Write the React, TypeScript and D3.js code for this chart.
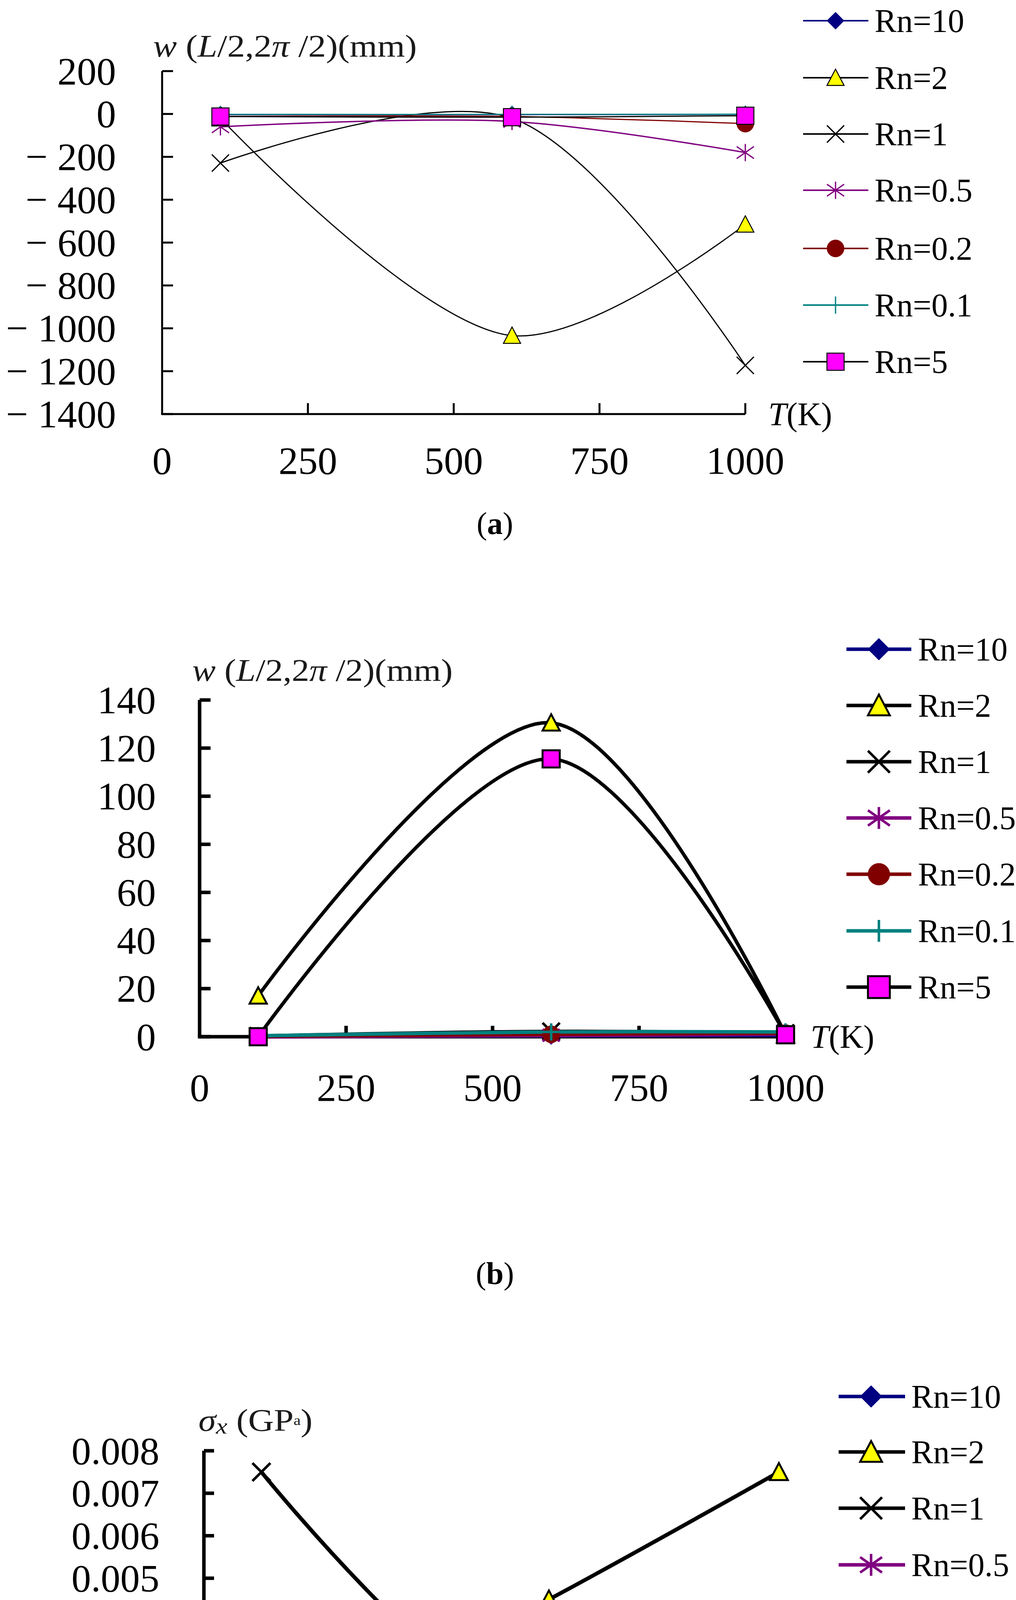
import * as d3 from 'd3'

// Temperatures where every series was evaluated
const temps = [100, 600, 1000]

const seriesNames = ['Rn=10', 'Rn=2', 'Rn=1', 'Rn=0.5', 'Rn=0.2', 'Rn=0.1', 'Rn=5']
const lineColors = ['#000080', '#000000', '#000000', '#800080', '#800000', '#008080', '#000000']
const markerKinds = ['diamond', 'triangle', 'cross', 'star', 'circle', 'plus', 'square']
const markerFills = ['#000080', '#ffff00', 'none', 'none', '#800000', 'none', '#ff00ff']

// (a) w(L/2, 2pi/2) in mm
const aValues = [
  [-3, -3, -2],
  [-20, -1034, -515],
  [-229, -20, -1173],
  [-60, -35, -180],
  [-12, -12, -45],
  [-2, -2, -1],
  [-12, -15, -8],
]

// (b) w(L/2, 2pi/2) in mm
const bValues = [
  [0.1, 0.3, 0.5],
  [17, 130.5, 0.8],
  [0.3, 2.2, 1.5],
  [0.1, 0.6, 1.2],
  [0.2, 1.0, 1.5],
  [0.4, 2.0, 2.0],
  [0, 115.5, 0.8],
]

// (c) sigma_x in GPa
const cValues = [
  [0.00142, 0.0018, 0.00145],
  [0.001, 0.0045, 0.0075],
  [0.0075, 0.0015, 0.00345],
  [0.00245, 0.0024, 0.00315],
  [0.0016, 0.00188, 0.00182],
  [0.00138, 0.00172, 0.0015],
  [0.00148, 0.00185, 0.0016],
]

const xTicks = [0, 250, 500, 750, 1000]
const aYTicks = [200, 0, -200, -400, -600, -800, -1000, -1200, -1400]
const bYTicks = [0, 20, 40, 60, 80, 100, 120, 140]
const cYTicks = [0, 0.001, 0.002, 0.003, 0.004, 0.005, 0.006, 0.007, 0.008]

const FONT = "'Liberation Serif', 'Times New Roman', serif"

interface PanelCfg {
  x0: number
  x1: number
  yTop: number
  yBottom: number
  yDomain: [number, number]
  axisWidth: number
  tickLen: number
  lineWidth: number
  markerSize: number
  markerStroke: number
  labelGap: number
  xLabelDy: number
  titleX: number
  titleY: number
  titleLen: number
  tkX: number
  legend: { lx1: number; lx2: number; mx: number; tx: number; rows: number[]; size: number; width: number }
  captionY: number
}

function markerPath(kind: string, s: number) {
  const h = s / 2
  switch (kind) {
    case 'diamond':
      return `M0,${-h}L${h},0L0,${h}L${-h},0Z`
    case 'triangle':
      return `M0,${-h}L${h},${h * 0.9}L${-h},${h * 0.9}Z`
    case 'square':
      return `M${-h},${-h}H${h}V${h}H${-h}Z`
    case 'circle':
      return d3.arc()({ innerRadius: 0, outerRadius: h, startAngle: 0, endAngle: Math.PI * 2 }) || ''
    case 'cross':
      return `M${-h},${-h}L${h},${h}M${h},${-h}L${-h},${h}`
    case 'star':
      return `M${-h},${-h * 0.7}L${h},${h * 0.7}M${h},${-h * 0.7}L${-h},${h * 0.7}M0,${-h}L0,${h}`
    case 'plus':
      return `M${-h},0L${h},0M0,${-h}L0,${h}`
  }
  return ''
}

function Marker({ i, cx, cy, size, sw }: { i: number; cx: number; cy: number; size: number; sw: number }) {
  const kind = markerKinds[i]
  const open = kind === 'cross' || kind === 'star' || kind === 'plus'
  const outlined = kind === 'triangle' || kind === 'square'
  return (
    <path
      transform={`translate(${cx},${cy})`}
      d={markerPath(kind, size)}
      fill={open ? 'none' : markerFills[i]}
      stroke={open ? lineColors[i] : outlined ? '#000' : markerFills[i]}
      strokeWidth={open ? sw * 1.3 : outlined ? sw : 1}
      strokeLinejoin="miter"
    />
  )
}

function Panel({
  cfg,
  values,
  yTicks,
  fmt,
  title,
  caption,
}: {
  cfg: PanelCfg
  values: number[][]
  yTicks: number[]
  fmt: (v: number) => string
  title: JSX.Element
  caption: string
}) {
  const x = d3.scaleLinear().domain([0, 1000]).range([cfg.x0, cfg.x1])
  const y = d3.scaleLinear().domain(cfg.yDomain).range([cfg.yBottom, cfg.yTop])
  const line = d3
    .line<number>()
    .x((_, i) => x(temps[i]))
    .y(d => y(d))
    .curve(d3.curveCatmullRom.alpha(0.5))

  const lg = cfg.legend
  return (
    <g>
      {/* axes */}
      <line x1={cfg.x0} y1={cfg.yTop} x2={cfg.x0} y2={cfg.yBottom} stroke="#000" strokeWidth={cfg.axisWidth} />
      <line
        x1={cfg.x0 - cfg.axisWidth / 2}
        y1={cfg.yBottom}
        x2={cfg.x1}
        y2={cfg.yBottom}
        stroke="#000"
        strokeWidth={cfg.axisWidth}
      />
      {yTicks.map(t => (
        <g key={'y' + t}>
          <line x1={cfg.x0} x2={cfg.x0 + cfg.tickLen} y1={y(t)} y2={y(t)} stroke="#000" strokeWidth={cfg.axisWidth} />
          <text
            x={cfg.x0 - cfg.labelGap}
            y={y(t)}
            textAnchor="end"
            dominantBaseline="central"
            fontSize={100}
            fontFamily={FONT}
          >
            {fmt(t)}
          </text>
        </g>
      ))}
      {xTicks.map(t => (
        <g key={'x' + t}>
          {t > 0 && (
            <line
              x1={x(t)}
              x2={x(t)}
              y1={cfg.yBottom}
              y2={cfg.yBottom - cfg.tickLen}
              stroke="#000"
              strokeWidth={cfg.axisWidth}
            />
          )}
          <text
            x={x(t)}
            y={cfg.yBottom + cfg.xLabelDy}
            textAnchor="middle"
            dominantBaseline="central"
            fontSize={100}
            fontFamily={FONT}
          >
            {t}
          </text>
        </g>
      ))}

      {/* series lines, then markers */}
      {values.map((vals, i) => (
        <path
          key={'l' + i}
          d={line(vals) || ''}
          fill="none"
          stroke={lineColors[i]}
          strokeWidth={cfg.lineWidth * (i === 3 ? 1.2 : 1)}
        />
      ))}
      {values.map((vals, i) =>
        vals.map((v, j) => (
          <Marker key={`m${i}-${j}`} i={i} cx={x(temps[j])} cy={y(v)} size={cfg.markerSize} sw={cfg.markerStroke} />
        ))
      )}

      {/* titles */}
      <text
        x={cfg.titleX}
        y={cfg.titleY}
        dominantBaseline="central"
        fontSize={80}
        fontFamily={FONT}
        fill="#1a1a1a"
        textLength={cfg.titleLen}
        lengthAdjust="spacingAndGlyphs"
      >
        {title}
      </text>
      <text x={cfg.tkX} y={cfg.yBottom} dominantBaseline="central" fontSize={84} fontFamily={FONT}>
        <tspan fontStyle="italic">T</tspan>(K)
      </text>

      {/* legend */}
      {seriesNames.map((name, i) => (
        <g key={name}>
          <line x1={lg.lx1} x2={lg.lx2} y1={lg.rows[i]} y2={lg.rows[i]} stroke={lineColors[i]} strokeWidth={lg.width} />
          <Marker i={i} cx={lg.mx} cy={lg.rows[i]} size={lg.size} sw={cfg.markerStroke} />
          <text x={lg.tx} y={lg.rows[i]} dominantBaseline="central" fontSize={84} fontFamily={FONT}>
            {name}
          </text>
        </g>
      ))}

      <text x={1267} y={cfg.captionY} textAnchor="middle" dominantBaseline="central" fontSize={80} fontFamily={FONT}>
        (<tspan fontWeight="bold">{caption}</tspan>)
      </text>
    </g>
  )
}

const wTitle = (
  <>
    <tspan fontStyle="italic">w</tspan> (<tspan fontStyle="italic">L</tspan>/2,2<tspan fontStyle="italic">π</tspan> /2)(mm)
  </>
)

const sigmaTitle = (
  <>
    <tspan fontStyle="italic">σ</tspan>
    <tspan fontStyle="italic" fontSize={58} dy={14}>x</tspan>
    <tspan dy={-14}> (GP</tspan>
    <tspan fontSize={36}>a</tspan>)
  </>
)

const cfgA: PanelCfg = {
  x0: 415,
  x1: 1908,
  yTop: 182,
  yBottom: 1060,
  yDomain: [-1400, 200],
  axisWidth: 5,
  tickLen: 28,
  lineWidth: 3,
  markerSize: 44,
  markerStroke: 2.5,
  labelGap: 118,
  xLabelDy: 119,
  titleX: 392,
  titleY: 118,
  titleLen: 675,
  tkX: 1967,
  legend: { lx1: 2056, lx2: 2223, mx: 2139, tx: 2239, rows: [53, 199, 343, 487, 636, 781, 926], size: 44, width: 4 },
  captionY: 1340,
}

const cfgB: PanelCfg = {
  x0: 511,
  x1: 2011,
  yTop: 1792,
  yBottom: 2654,
  yDomain: [0, 140],
  axisWidth: 9,
  tickLen: 28,
  lineWidth: 9,
  markerSize: 44,
  markerStroke: 5,
  labelGap: 112,
  xLabelDy: 130,
  titleX: 492,
  titleY: 1716,
  titleLen: 667,
  tkX: 2075,
  legend: { lx1: 2167, lx2: 2333, mx: 2250, tx: 2350, rows: [1662, 1806, 1950, 2094, 2238, 2383, 2527], size: 56, width: 9 },
  captionY: 3260,
}

const cfgC: PanelCfg = {
  x0: 522,
  x1: 1994,
  yTop: 3714,
  yBottom: 4584,
  yDomain: [0, 0.008],
  axisWidth: 9,
  tickLen: 26,
  lineWidth: 10,
  markerSize: 46,
  markerStroke: 5,
  labelGap: 114,
  xLabelDy: 129,
  titleX: 508,
  titleY: 3636,
  titleLen: 292,
  tkX: 2047,
  legend: { lx1: 2147, lx2: 2317, mx: 2230, tx: 2333, rows: [3575, 3717, 3861, 4006, 4148, 4293, 4439], size: 56, width: 9 },
  captionY: 5193,
}

const fmtA = (v: number) => (v < 0 ? `\u2212 ${-v}` : `${v}`)
const fmtB = (v: number) => `${v}`
const fmtC = (v: number) => v.toFixed(3)

export default function App() {
  return (
    <div>
      <style>{`body{margin:0}`}</style>
      <svg width={2601} height={5246} style={{ display: 'block', background: '#fff' }}>
        <Panel cfg={cfgA} values={aValues} yTicks={aYTicks} fmt={fmtA} title={wTitle} caption="a" />
        <Panel cfg={cfgB} values={bValues} yTicks={bYTicks} fmt={fmtB} title={wTitle} caption="b" />
        <Panel cfg={cfgC} values={cValues} yTicks={cYTicks} fmt={fmtC} title={sigmaTitle} caption="c" />
      </svg>
    </div>
  )
}
